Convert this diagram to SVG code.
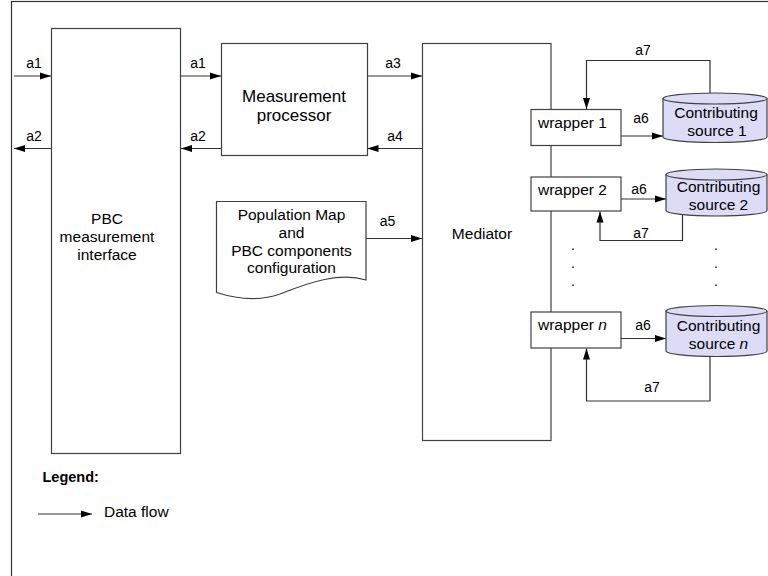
<svg xmlns="http://www.w3.org/2000/svg" width="768" height="576" viewBox="0 0 768 576">
<defs>
<marker id="arr" markerWidth="11" markerHeight="8" refX="11" refY="4" orient="auto" markerUnits="userSpaceOnUse">
<path d="M0,0.5 L11,4 L0,7.5 z" fill="#000"/>
</marker>
<style>
text{font-family:"Liberation Sans",Arial,sans-serif;fill:#000}
.t{font-size:15.5px;text-anchor:middle}
.tl{font-size:15.5px}
.lab{font-size:14px;text-anchor:middle}
.box{fill:#fff;stroke:#404040;stroke-width:1.2}
.cyl{fill:#dcdcf6;stroke:#404040;stroke-width:1.2}
.c{fill:none;stroke:#333;stroke-width:1.2}
.a{fill:none;stroke:#333;stroke-width:1.2;marker-end:url(#arr)}
</style>
</defs>
<rect width="768" height="576" fill="#fff"/>
<rect x="11.5" y="1.5" width="800" height="600" fill="none" stroke="#333" stroke-width="1.2"/>

<g id="pbc">
<rect class="box" x="51.5" y="28.5" width="129" height="425"/>
<text class="t" x="107" y="224">PBC</text>
<text class="t" x="107" y="242">measurement</text>
<text class="t" x="107" y="259.5">interface</text>
</g>

<g id="mp">
<rect class="box" x="221.5" y="43.5" width="146" height="112"/>
<text class="t" x="294" y="102" style="font-size:17px">Measurement</text>
<text class="t" x="294" y="121" style="font-size:17px">processor</text>
</g>

<g id="mediator">
<rect class="box" x="422.5" y="43.5" width="128.5" height="397"/>
<text class="t" x="482" y="238.5">Mediator</text>
</g>

<g id="popmap">
<path class="box" d="M216.5,201.5 H366 V280 C340,272 310,282 280,294 C260,301 240,300 216.5,292.5 Z"/>
<text class="t" x="291.5" y="220">Population Map</text>
<text class="t" x="291.5" y="237.5">and</text>
<text class="t" x="291.5" y="255.5">PBC components</text>
<text class="t" x="291.5" y="273">configuration</text>
</g>

<g id="connectors">
<line class="a" x1="14" y1="76" x2="51" y2="76"/>
<line class="a" x1="51" y1="148.5" x2="14" y2="148.5"/>
<line class="a" x1="181" y1="76" x2="221" y2="76"/>
<line class="a" x1="221" y1="148.5" x2="181" y2="148.5"/>
<line class="a" x1="367.5" y1="76" x2="422" y2="76"/>
<line class="a" x1="422" y1="148.5" x2="367.5" y2="148.5"/>
<line class="a" x1="366" y1="238.5" x2="422" y2="238.5"/>
<line class="a" x1="621" y1="136" x2="663" y2="136"/>
<line class="a" x1="621" y1="199" x2="666" y2="199"/>
<line class="a" x1="621" y1="338.5" x2="666" y2="338.5"/>
<path class="a" d="M710,93 V60.5 H586.5 V109"/>
<path class="a" d="M682.5,215 V240.5 H600 V211.5"/>
<path class="a" d="M710,356 V401 H586.5 V348.5"/>
<line class="a" x1="38" y1="514" x2="92" y2="514"/>
</g>

<g id="labels">
<text class="lab" x="34" y="68">a1</text>
<text class="lab" x="34" y="141">a2</text>
<text class="lab" x="198" y="68">a1</text>
<text class="lab" x="198" y="141">a2</text>
<text class="lab" x="393" y="68">a3</text>
<text class="lab" x="395" y="141">a4</text>
<text class="lab" x="387.5" y="226">a5</text>
<text class="lab" x="641" y="123">a6</text>
<text class="lab" x="639" y="194">a6</text>
<text class="lab" x="643" y="330">a6</text>
<text class="lab" x="643" y="55">a7</text>
<text class="lab" x="641" y="238">a7</text>
<text class="lab" x="652" y="392">a7</text>
</g>

<g id="wrapper1">
<rect class="box" x="531" y="109.5" width="90" height="36"/>
<text class="tl" x="538" y="127.5">wrapper 1</text>
</g>
<g id="wrapper2">
<rect class="box" x="531" y="177" width="90" height="34"/>
<text class="tl" x="538" y="195">wrapper 2</text>
</g>
<g id="wrappern">
<rect class="box" x="531" y="312" width="90" height="36"/>
<text class="tl" x="538" y="330">wrapper <tspan font-style="italic">n</tspan></text>
</g>

<g id="source1">
<path class="cyl" d="M663,98 V137 A52,5.5 0 0 0 767,137 V98"/>
<ellipse class="cyl" cx="715" cy="98.5" rx="52" ry="5.5"/>
<text class="t" x="716" y="117.5">Contributing</text>
<text class="t" x="717" y="136">source 1</text>
</g>
<g id="source2">
<path class="cyl" d="M666,174.5 V210.5 A50.5,5.5 0 0 0 767,210.5 V174.5"/>
<ellipse class="cyl" cx="716.5" cy="174.5" rx="50.5" ry="5.5"/>
<text class="t" x="718.5" y="192">Contributing</text>
<text class="t" x="718.5" y="210">source 2</text>
</g>
<g id="sourcen">
<path class="cyl" d="M666,311 V351 A50.5,5.5 0 0 0 767,351 V311"/>
<ellipse class="cyl" cx="716.5" cy="311" rx="50.5" ry="5.5"/>
<text class="t" x="718.5" y="331">Contributing</text>
<text class="t" x="718.5" y="349">source <tspan font-style="italic">n</tspan></text>
</g>

<g id="dots">
<text class="lab" x="573" y="250">.</text>
<text class="lab" x="573" y="268">.</text>
<text class="lab" x="573" y="286">.</text>
<text class="lab" x="716" y="250">.</text>
<text class="lab" x="716" y="268">.</text>
<text class="lab" x="716" y="286">.</text>
</g>

<g id="legend">
<text x="42.5" y="482" style="font-size:14.5px;font-weight:bold">Legend:</text>
<text class="tl" x="104" y="517">Data flow</text>
</g>
</svg>
